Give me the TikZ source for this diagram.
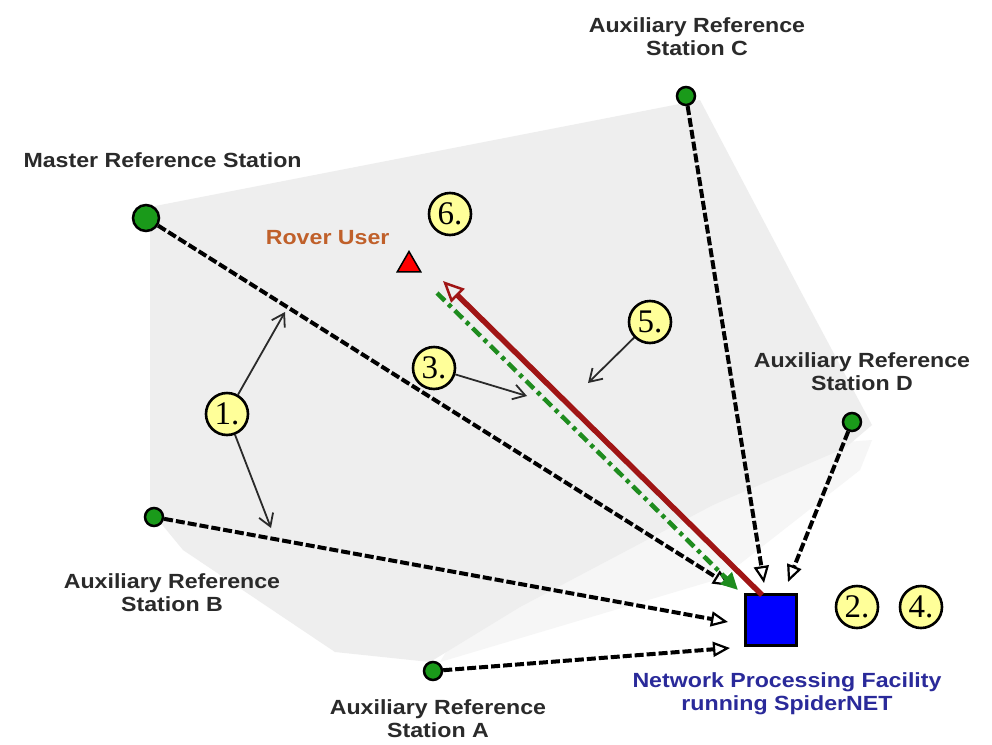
\documentclass[tikz,border=0pt]{standalone}
\usepackage{fontspec}
\setmainfont{Liberation Sans}
\newfontfamily\numfont{Liberation Serif}
\newfontfamily\labfont[FakeStretch=1.13]{Liberation Sans}
\usetikzlibrary{arrows.meta,shapes.geometric}
\definecolor{stgreen}{HTML}{1A9A1A}
\definecolor{numyellow}{HTML}{FFFF99}
\definecolor{areagray}{HTML}{EEEEEE}
\definecolor{areagraylight}{HTML}{F6F6F6}
\definecolor{labgray}{HTML}{2A2A2A}
\definecolor{roverorange}{HTML}{C0602A}
\definecolor{facblue}{HTML}{2A2A9A}
\definecolor{linkred}{HTML}{A01515}
\definecolor{linkgreen}{HTML}{1E8C1E}
\begin{document}
\begin{tikzpicture}[x=1pt,y=-1pt,
  station/.style={circle,fill=stgreen,draw=black,line width=2.5pt,inner sep=0pt,minimum size=18pt},
  master/.style={station,minimum size=26pt},
  numc/.style={circle,fill=numyellow,inner sep=0pt,minimum size=44pt,font=\numfont\fontsize{33}{33}\selectfont},
  ring/.style={draw=black,line width=2.6pt},
  lab/.style={font=\labfont\bfseries\fontsize{20.5}{23}\selectfont,text=labgray,align=center},
  datalink/.style={draw=black,line width=4pt,dash pattern=on 9pt off 3pt,-{Triangle[open,length=17pt,width=15pt,line width=2.2pt]}},
  pointer/.style={draw=labgray,line width=1.8pt,-{Straight Barb[length=12pt,width=15pt,line width=1.8pt]}}
]
\useasboundingbox (0,0) rectangle (992,744);
\fill[white] (0,0) rectangle (992,744);
% shaded network area
\fill[areagraylight] (620,460) -- (872,440) -- (860,470) -- (722,578) -- (440,662) -- (483,590) -- cycle;
\fill[areagray] (150,207) -- (700,100) -- (800,290) -- (872,425) -- (845,448) -- (713,505) -- (520,607) -- (430,662) -- (335,652) -- (183,550) -- (150,510) -- cycle;

% stations
\node[master] (M) at (146,218) {};
\node[station] (C) at (686,96) {};
\node[station] (D) at (852,422) {};
\node[station] (B) at (154,517) {};
\node[station] (A) at (433,671) {};
\node[draw=black,line width=2.5pt,fill=blue,minimum size=51pt,inner sep=0pt] (F) at (771,620) {};
\node[draw=black,line width=1.5pt,fill=red,regular polygon,regular polygon sides=3,minimum size=27pt,inner sep=0pt] (R) at (409,265) {};

% endpoints
\coordinate (eM) at (730,586);
\coordinate (eB) at (728,622);
\coordinate (eA) at (730,648);
\coordinate (eC) at (764,583);
\coordinate (eD) at (788,582);

% data links
\draw[datalink] (M) -- (eM);
\draw[datalink] (B) -- (eB);
\draw[datalink] (A) -- (eA);
\draw[datalink] (C) -- (eC);
\draw[datalink] (D) -- (eD);

% correction / position links
\coordinate (gS) at (437,293);
\coordinate (gE) at (738,590);
\draw[linkgreen,line width=4.5pt,dash pattern=on 11pt off 5pt on 4pt off 5pt,-{Triangle[length=17pt,width=16pt]}] (gS) -- (gE);
\coordinate (rS) at (762,595);
\coordinate (rE) at (443,281);
\draw[linkred,line width=5.5pt,-{Triangle[open,length=21pt,width=19pt,line width=2.5pt]}] (rS) -- (rE);

% labels
\node[lab,anchor=west] (lM) at (20,160) {Master Reference Station};
\node[lab] (lC) at (697,37) {Auxiliary Reference\\Station C};
\node[lab] (lD) at (862,372) {Auxiliary Reference\\Station D};
\node[lab] (lB) at (172,593) {Auxiliary Reference\\Station B};
\node[lab] (lA) at (438,719) {Auxiliary Reference\\Station A};
\node[lab,text=roverorange,anchor=east] (lR) at (393,238) {Rover User};
\node[lab,text=facblue] (lF) at (787,694) {Network Processing Facility\\running SpiderNET};

% numbered markers
\node[numc] (n6) at (450,214) {6.};
\node[numc] (n5) at (650,322) {5.};
\node[numc] (n3) at (434,368) {3.};
\node[numc] (n1) at (227,414) {1.};
\node[numc] (n2) at (857,607) {2.};
\node[numc] (n4) at (921,607) {4.};
\foreach \n in {n6,n5,n3,n1,n2,n4}
  \draw[ring] (\n.center) circle[radius=21pt];

% pointers
\coordinate (p1a) at (285,312);
\coordinate (p1b) at (271,528);
\coordinate (p3) at (527,396);
\coordinate (p5) at (588,383);
\draw[pointer] (n1) -- (p1a);
\draw[pointer] (n1) -- (p1b);
\draw[pointer] (n3) -- (p3);
\draw[pointer] (n5) -- (p5);
\end{tikzpicture}
\end{document}
